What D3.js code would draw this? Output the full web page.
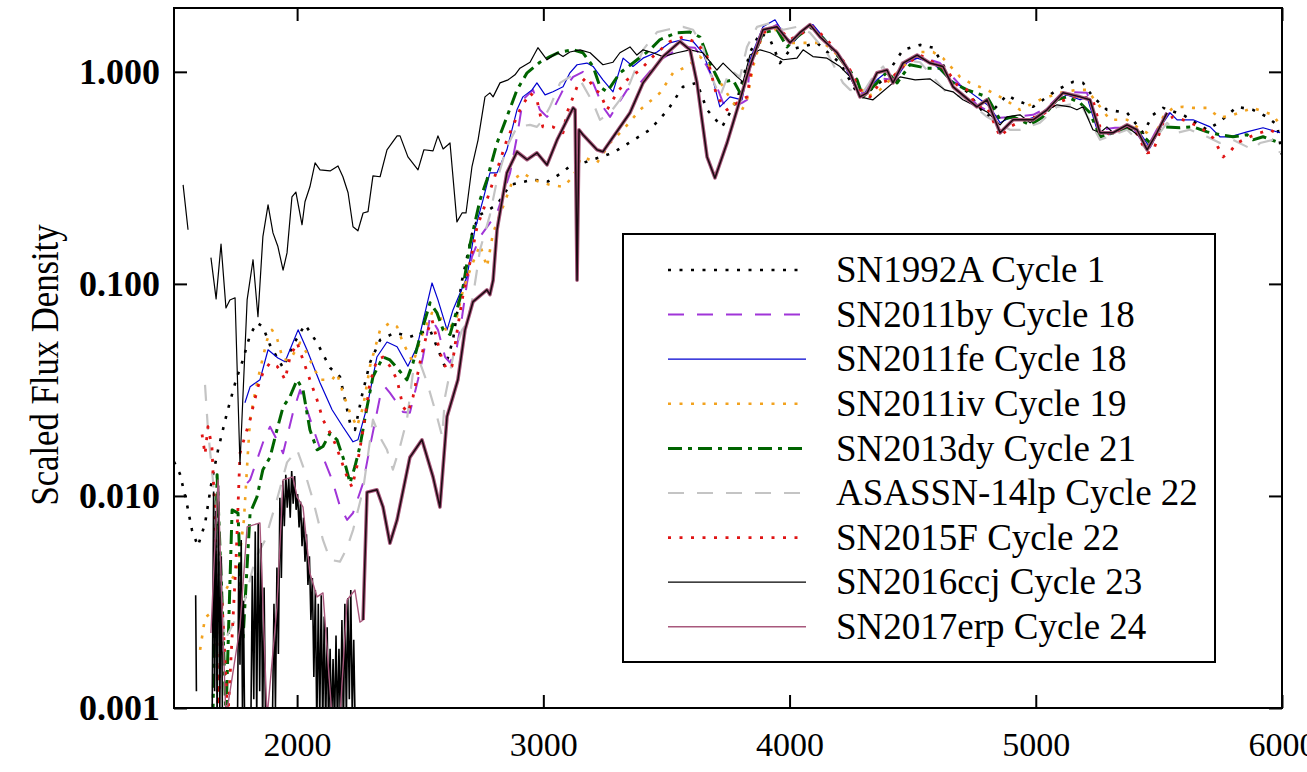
<!DOCTYPE html>
<html>
<head>
<meta charset="utf-8">
<script src="https://cdn.jsdelivr.net/npm/d3@7"></script>
<style>
  body { margin: 0; background: #fff; }
  text { font-family: "Liberation Serif", "DejaVu Serif", serif; fill: #000; }
</style>
</head>
<body>
<svg id="chart" width="1307" height="772"></svg>
<script>
// wavelength (A), scaled flux
var sn1992a = [[1500,0.0145],[1524,0.0127],[1549,0.0096],[1573,0.0069],[1597,0.0058],[1626,0.0074],[1654,0.0119],[1679,0.0165],[1715,0.0246],[1752,0.0353],[1780,0.0438],[1809,0.0575],[1837,0.0656],[1861,0.0628],[1890,0.0514],[1943,0.0402],[1983,0.0514],[2032,0.0643],[2081,0.0528],[2134,0.0402],[2174,0.0365],[2215,0.0221],[2235,0.0205],[2264,0.0300],[2296,0.0425],[2337,0.0544],[2398,0.0590],[2459,0.0563],[2540,0.0607],[2601,0.0405],[2633,0.0544],[2670,0.104],[2714,0.180],[2743,0.212],[2812,0.236],[2865,0.293],[2958,0.310],[3019,0.304],[3080,0.337],[3137,0.385],[3161,0.372],[3283,0.415],[3433,0.533],[3506,0.662],[3567,0.85],[3624,0.887],[3665,0.662],[3726,0.55],[3787,0.738],[3839,1.23],[3880,1.53],[3921,1.42],[3961,1.10],[4002,1.27],[4111,1.37],[4205,1.10],[4274,0.796],[4294,0.762],[4380,0.917],[4461,1.27],[4530,1.34],[4583,1.30],[4652,0.947],[4721,0.805],[4802,0.613],[4883,0.779],[4916,0.738],[4989,0.684],[5086,0.822],[5151,0.897],[5192,0.887],[5232,0.762],[5289,0.662],[5371,0.641],[5436,0.516],[5476,0.627],[5517,0.676],[5598,0.627],[5696,0.533],[5748,0.582],[5817,0.684],[5882,0.662],[5939,0.613],[5980,0.562],[6000,0.406]];

var sn2011by = [[1797,0.0115],[1809,0.0119],[1870,0.0191],[1890,0.0212],[1918,0.0184],[1943,0.0159],[1983,0.0247],[2012,0.0316],[2044,0.0247],[2081,0.0184],[2105,0.0153],[2142,0.0119],[2174,0.00894],[2203,0.00771],[2227,0.00831],[2268,0.0115],[2296,0.0171],[2337,0.0294],[2357,0.0327],[2377,0.0306],[2406,0.0275],[2430,0.0249],[2458,0.0247],[2491,0.0353],[2511,0.0452],[2540,0.0700],[2572,0.0607],[2601,0.0452],[2621,0.0425],[2649,0.0505],[2670,0.0700],[2690,0.101],[2710,0.134],[2743,0.167],[2812,0.216],[2865,0.334],[2893,0.494],[2917,0.738],[2958,0.822],[2986,0.662],[3015,0.613],[3039,0.662],[3080,0.822],[3121,0.947],[3161,1.0],[3202,0.887],[3242,0.684],[3271,0.613],[3340,0.822],[3393,0.887],[3474,1.14],[3543,1.27],[3567,1.31],[3616,1.30],[3665,1.06],[3705,0.85],[3730,0.714],[3766,0.684],[3807,0.714],[3827,0.738],[3839,1.10],[3892,1.54],[3949,1.67],[4002,1.39],[4063,1.58],[4095,1.63],[4136,1.44],[4205,1.18],[4286,0.779],[4355,0.937],[4420,0.917],[4477,1.11],[4530,1.18],[4611,1.10],[4692,0.868],[4761,0.699],[4855,0.607],[4908,0.613],[4989,0.627],[5046,0.676],[5111,0.805],[5208,0.796],[5261,0.533],[5322,0.545],[5395,0.545],[5452,0.438],[5517,0.607],[5545,0.641]];

var sn2011fe = [[1788,0.0275],[1809,0.0327],[1849,0.0353],[1882,0.0489],[1922,0.0447],[1951,0.0429],[2004,0.0607],[2040,0.0489],[2093,0.0342],[2142,0.0255],[2186,0.0212],[2227,0.0180],[2247,0.0184],[2284,0.0263],[2324,0.0452],[2365,0.0532],[2406,0.0505],[2450,0.0409],[2487,0.0505],[2548,0.101],[2572,0.0841],[2609,0.0607],[2633,0.0754],[2690,0.108],[2722,0.180],[2755,0.249],[2783,0.334],[2812,0.334],[2852,0.429],[2893,0.662],[2917,0.762],[2954,0.822],[2974,0.887],[3007,0.779],[3039,0.805],[3080,0.85],[3108,0.989],[3137,1.08],[3177,1.10],[3202,1.06],[3242,0.917],[3283,0.805],[3324,1.16],[3364,1.06],[3405,1.16],[3462,1.24],[3514,1.37],[3567,1.42],[3608,1.39],[3648,1.23],[3689,0.917],[3717,0.684],[3758,0.762],[3807,0.738],[3839,1.14],[3892,1.63],[3941,1.76],[3990,1.42],[4014,1.37],[4071,1.63],[4095,1.67],[4136,1.46],[4205,1.18],[4286,0.762],[4355,0.917],[4396,1.0],[4420,0.887],[4477,1.11],[4518,1.16],[4583,1.10],[4652,0.917],[4721,0.822],[4814,0.684],[4855,0.575],[4895,0.607],[4964,0.594],[5017,0.627],[5070,0.714],[5127,0.779],[5180,0.738],[5208,0.762],[5249,0.533],[5301,0.505],[5371,0.562],[5423,0.516],[5464,0.438],[5517,0.575],[5545,0.641],[5574,0.594],[5639,0.594],[5708,0.550],[5748,0.494],[5789,0.494],[5858,0.521],[5923,0.545],[5992,0.516]];

var sn2011iv = [[1606,0.00188],[1626,0.00267],[1646,0.00278],[1687,0.00323],[1727,0.00390],[1760,0.00455],[1784,0.00771],[1800,0.0159],[1809,0.0229],[1829,0.0306],[1849,0.0393],[1878,0.0544],[1898,0.0607],[1918,0.0556],[1943,0.0438],[1971,0.0438],[2012,0.0528],[2040,0.0472],[2064,0.0409],[2093,0.0353],[2142,0.0353],[2162,0.0380],[2186,0.0306],[2215,0.0247],[2243,0.0212],[2268,0.0263],[2296,0.0409],[2337,0.0607],[2377,0.0656],[2406,0.0628],[2430,0.0528],[2471,0.0425],[2511,0.0590],[2548,0.0730],[2580,0.0700],[2609,0.0590],[2649,0.0700],[2674,0.0937],[2702,0.116],[2743,0.153],[2771,0.120],[2796,0.174],[2836,0.231],[2877,0.310],[2917,0.334],[2958,0.310],[3027,0.293],[3080,0.287],[3121,0.320],[3149,0.385],[3161,0.397],[3218,0.372],[3271,0.462],[3324,0.533],[3393,0.662],[3474,0.796],[3527,0.989],[3584,1.06],[3636,1.18],[3677,1.06],[3730,0.85],[3770,0.714],[3807,0.662],[3827,0.738],[3852,1.06],[3892,1.53],[3949,1.58],[4002,1.37],[4042,1.37],[4095,1.37],[4136,1.37],[4176,1.27],[4217,1.10],[4274,0.887],[4315,0.762],[4367,0.822],[4408,0.917],[4461,1.06],[4530,1.24],[4583,1.24],[4623,1.16],[4692,0.947],[4733,0.887],[4802,0.822],[4855,0.762],[4895,0.714],[4936,0.662],[5017,0.738],[5098,0.796],[5167,0.822],[5208,0.822],[5261,0.684],[5301,0.594],[5371,0.594],[5411,0.550],[5452,0.516],[5476,0.478],[5517,0.613],[5557,0.676],[5598,0.684],[5639,0.676],[5696,0.676],[5748,0.607],[5801,0.627],[5882,0.676],[5963,0.627],[5992,0.562]];

var sn2013dy = [[1658,0.0009],[1675,0.0126],[1695,0.00323],[1711,0.0009],[1736,0.00859],[1760,0.0083],[1780,0.00209],[1809,0.0083],[1837,0.0099],[1861,0.0133],[1890,0.0152],[1918,0.0205],[1943,0.0263],[1971,0.0294],[2000,0.0353],[2024,0.0316],[2052,0.0205],[2081,0.0165],[2105,0.0171],[2134,0.0198],[2162,0.0184],[2194,0.0143],[2215,0.0115],[2235,0.0138],[2255,0.0171],[2284,0.0263],[2308,0.0365],[2349,0.0452],[2377,0.0438],[2406,0.0402],[2446,0.0353],[2471,0.0425],[2499,0.0562],[2540,0.0815],[2568,0.0730],[2593,0.0607],[2621,0.0577],[2649,0.0754],[2674,0.0967],[2702,0.153],[2743,0.249],[2771,0.310],[2812,0.462],[2852,0.613],[2893,0.822],[2934,0.989],[2986,1.11],[3027,1.18],[3068,1.24],[3121,1.27],[3161,1.23],[3202,1.06],[3230,0.85],[3259,0.805],[3311,0.989],[3364,1.10],[3433,1.27],[3474,1.42],[3543,1.53],[3596,1.54],[3636,1.46],[3677,1.10],[3717,0.887],[3770,0.917],[3799,0.796],[3839,1.06],[3892,1.53],[3949,1.58],[3990,1.31],[4030,1.46],[4083,1.63],[4136,1.44],[4193,1.20],[4274,0.917],[4298,0.762],[4355,0.887],[4396,1.0],[4437,0.887],[4489,1.08],[4558,1.04],[4611,1.04],[4664,0.887],[4721,0.822],[4802,0.762],[4855,0.594],[4908,0.613],[4977,0.562],[5029,0.613],[5086,0.738],[5127,0.762],[5180,0.714],[5220,0.641],[5261,0.494],[5314,0.516],[5371,0.545],[5423,0.516],[5464,0.462],[5517,0.550],[5586,0.545],[5639,0.550],[5696,0.521],[5748,0.505],[5801,0.494],[5858,0.505],[5882,0.478],[5923,0.494],[5992,0.462]];

var asassn14lp = [[1626,0.0334],[1638,0.0205],[1658,0.0119],[1679,0.0050],[1707,0.00209],[1748,0.0026],[1788,0.00323],[1829,0.0050],[1870,0.0062],[1918,0.0096],[1959,0.0144],[2000,0.0165],[2024,0.0138],[2064,0.0096],[2105,0.0062],[2134,0.0050],[2174,0.0049],[2203,0.0057],[2227,0.0069],[2268,0.0107],[2308,0.0229],[2337,0.0189],[2365,0.0165],[2389,0.0133],[2418,0.0171],[2446,0.0229],[2471,0.0385],[2499,0.0425],[2528,0.0342],[2568,0.0237],[2589,0.0191],[2601,0.0294],[2633,0.0452],[2670,0.0607],[2690,0.0656],[2714,0.0869],[2743,0.145],[2783,0.211],[2812,0.310],[2852,0.443],[2893,0.550],[2946,0.562],[2974,0.550],[2998,0.594],[3027,0.684],[3068,0.887],[3108,0.947],[3149,0.917],[3202,0.714],[3230,0.594],[3271,0.641],[3311,0.738],[3352,0.887],[3405,1.27],[3462,1.54],[3502,1.58],[3567,1.63],[3608,1.58],[3648,1.31],[3677,0.989],[3717,0.762],[3758,1.02],[3799,0.947],[3827,1.31],[3868,1.63],[3921,1.70],[3974,1.58],[4030,1.63],[4083,1.53],[4152,1.23],[4217,0.887],[4246,0.822],[4298,0.796],[4339,0.947],[4380,1.06],[4420,0.887],[4461,1.14],[4530,1.11],[4639,0.796],[4704,0.762],[4802,0.613],[4895,0.533],[4936,0.533],[5017,0.575],[5086,0.684],[5180,0.714],[5261,0.478],[5371,0.533],[5452,0.429],[5533,0.575],[5574,0.516],[5626,0.533],[5696,0.494],[5748,0.462],[5801,0.478],[5882,0.429],[5911,0.462],[5963,0.478],[5992,0.415]];

var sn2015f = [[1614,0.0195],[1626,0.0157],[1638,0.0212],[1654,0.0171],[1667,0.0077],[1679,0.0009],[1695,0.00323],[1719,0.0009],[1752,0.0050],[1768,0.0159],[1788,0.0191],[1809,0.0229],[1821,0.0263],[1841,0.0327],[1861,0.0380],[1890,0.0425],[1918,0.0409],[1930,0.0393],[1951,0.0353],[1971,0.0452],[2000,0.0528],[2024,0.0438],[2052,0.0353],[2081,0.0284],[2105,0.0229],[2134,0.0198],[2154,0.0177],[2174,0.0153],[2203,0.0123],[2223,0.0110],[2243,0.0138],[2268,0.0205],[2296,0.0342],[2324,0.0438],[2349,0.0452],[2377,0.0409],[2406,0.0353],[2430,0.0263],[2450,0.0247],[2471,0.0294],[2499,0.0425],[2528,0.0590],[2548,0.0677],[2568,0.0544],[2589,0.0438],[2609,0.0393],[2629,0.0409],[2649,0.0590],[2670,0.0841],[2702,0.126],[2731,0.186],[2771,0.249],[2812,0.345],[2852,0.478],[2905,0.662],[2946,0.796],[2974,0.738],[2998,0.550],[3039,0.550],[3080,0.516],[3096,0.641],[3137,0.85],[3177,0.947],[3210,0.822],[3230,0.796],[3259,0.662],[3299,0.796],[3340,0.917],[3393,1.02],[3445,1.18],[3514,1.39],[3567,1.46],[3624,1.37],[3665,1.18],[3705,0.762],[3746,0.662],[3787,0.714],[3827,0.762],[3852,1.14],[3892,1.53],[3949,1.63],[4002,1.42],[4055,1.53],[4095,1.63],[4152,1.42],[4205,1.18],[4246,1.02],[4286,0.822],[4327,0.762],[4367,0.887],[4408,0.917],[4461,1.06],[4530,1.20],[4583,1.11],[4639,1.02],[4680,0.868],[4721,0.822],[4761,0.684],[4802,0.684],[4855,0.494],[4895,0.550],[4964,0.607],[5017,0.613],[5086,0.714],[5151,0.762],[5192,0.762],[5232,0.738],[5261,0.550],[5301,0.505],[5342,0.533],[5395,0.550],[5452,0.415],[5476,0.420],[5517,0.575],[5557,0.613],[5598,0.594],[5667,0.550],[5720,0.488],[5761,0.397],[5789,0.420],[5817,0.462],[5870,0.494],[5911,0.516],[5951,0.533],[5992,0.505]];

var sn2016ccj = [[1537,0.293],[1557,0.180],null,[1650,0.133],[1671,0.085],[1691,0.154],[1711,0.077],[1727,0.084],[1748,0.086],[1768,0.0141],[1797,0.084],[1821,0.130],[1841,0.070],[1861,0.167],[1882,0.236],[1902,0.174],[1922,0.150],[1943,0.116],[1959,0.140],[1979,0.257],[1995,0.271],[2020,0.190],[2032,0.244],[2052,0.287],[2073,0.372],[2093,0.345],[2134,0.341],[2166,0.360],[2186,0.320],[2207,0.269],[2227,0.186],[2247,0.178],[2268,0.216],[2288,0.219],[2308,0.323],[2337,0.320],[2365,0.429],[2406,0.499],[2418,0.499],[2450,0.397],[2491,0.345],[2515,0.429],[2552,0.424],[2572,0.499],[2593,0.433],[2613,0.453],[2621,0.462],[2649,0.196],[2670,0.216],[2686,0.216],[2710,0.356],[2735,0.478],[2763,0.762],[2783,0.796],[2796,0.762],[2824,0.887],[2857,0.917],[2885,0.968],[2905,1.04],[2946,1.11],[2978,1.30],[3015,1.14],[3056,1.23],[3080,1.18],[3108,1.24],[3149,1.27],[3190,1.23],[3242,1.08],[3283,1.11],[3311,1.23],[3352,1.31],[3380,1.20],[3405,1.27],[3445,1.23],[3486,1.18],[3543,1.23],[3596,1.27],[3648,1.23],[3705,1.02],[3730,1.10],[3787,0.947],[3811,0.897],[3839,1.20],[3880,1.27],[3921,1.23],[3974,1.14],[4030,1.16],[4055,1.27],[4095,1.18],[4152,1.16],[4205,1.06],[4246,0.947],[4286,0.762],[4339,0.738],[4449,0.947],[4510,0.917],[4570,0.927],[4631,0.822],[4664,0.805],[4704,0.738],[4761,0.684],[4802,0.647],[4855,0.562],[4883,0.613],[4936,0.627],[4977,0.575],[5029,0.641],[5086,0.699],[5139,0.684],[5167,0.662],[5192,0.684],[5232,0.533],[5261,0.516],[5289,0.550],[5314,0.516],[5371,0.550],[5423,0.494],[5452,0.443],[5476,0.462]];

var sn2017erp = [[1650,0.00226],[1667,0.0062],[1679,0.0119],[1695,0.00298],[1711,0.0009],[1768,0.00241],[1797,0.00715],[1849,0.00746],[1878,0.0009],[1918,0.00298],[1943,0.0119],[1983,0.0123],[2000,0.00989],[2024,0.00886],[2052,0.00432],[2081,0.00334],[2105,0.00349],[2142,0.0009],[2174,0.0009],[2203,0.00323],[2235,0.0036],[2255,0.00254],[2268,0.0026],[2284,0.0104],[2324,0.0107],[2349,0.00886],[2377,0.00598],[2406,0.00771],[2458,0.0152],[2507,0.0184],[2552,0.0123],[2580,0.00886],[2609,0.0237],[2633,0.0294],[2653,0.0353],[2682,0.0607],[2714,0.0822],[2771,0.0937],[2783,0.089],[2796,0.104],[2812,0.180],[2852,0.334],[2893,0.420],[2934,0.385],[2974,0.415],[3015,0.364],[3056,0.478],[3121,0.676],[3129,0.662],[3137,0.104],[3145,0.533],[3161,0.505],[3218,0.429],[3242,0.420],[3352,0.641],[3405,0.887],[3486,1.18],[3555,1.39],[3596,1.27],[3624,0.887],[3665,0.397],[3697,0.316],[3746,0.462],[3799,0.738],[3839,1.06],[3892,1.58],[3949,1.63],[4002,1.37],[4042,1.53],[4083,1.67],[4124,1.46],[4193,1.23],[4246,0.989],[4286,0.762],[4315,0.796],[4355,0.989],[4396,1.02],[4420,0.887],[4461,1.10],[4518,1.20],[4570,1.10],[4623,1.06],[4664,0.85],[4761,0.684],[4802,0.738],[4855,0.516],[4908,0.594],[4989,0.594],[5046,0.662],[5111,0.796],[5180,0.762],[5220,0.738],[5261,0.516],[5314,0.516],[5371,0.562],[5411,0.533],[5452,0.429],[5492,0.516],[5533,0.641]];

// unsmoothed SN2017erp points in the noisy UV part (drawn black)
var sn2017erpRaw = [[1588,0.0034],[1591,0.0012],null,[1655,0.0009],[1661,0.0105],[1665,0.0012],[1670,0.0085],[1675,0.0009],[1681,0.0112],[1686,0.0010],[1692,0.0052],[1697,0.0008],null,[1758,0.0009],[1763,0.0048],[1768,0.0016],[1773,0.0062],[1778,0.0010],[1782,0.0032],[1787,0.0008],null,[1812,0.0008],[1818,0.0042],[1824,0.0011],[1830,0.0068],[1836,0.0009],[1842,0.0074],[1848,0.0012],[1854,0.0060],[1860,0.0008],[1866,0.0037],[1872,0.0008],null,[1900,0.0009],[1906,0.0031],[1912,0.0010],[1918,0.0046],[1924,0.0018],[1930,0.0098],[1936,0.0041],[1942,0.0118],[1948,0.0072],[1954,0.0126],[1960,0.0088],[1966,0.0121],[1972,0.0079],[1978,0.0131],[1984,0.0092],[1990,0.0124],[1996,0.0086],[2002,0.0102],[2008,0.0071],[2014,0.0094],[2020,0.0058],[2026,0.0079],[2032,0.0049],[2038,0.0066],[2044,0.0038],[2050,0.0052],[2056,0.0026],[2062,0.0041],[2068,0.0014],[2074,0.0036],[2080,0.0008],[2086,0.0031],[2092,0.0009],[2098,0.0034],[2104,0.0008],[2110,0.0027],[2116,0.0008],[2122,0.0024],[2128,0.0008],[2134,0.0019],[2140,0.0008],[2146,0.0017],[2152,0.0008],[2158,0.0022],[2164,0.0008],[2170,0.0019],[2176,0.0008],[2182,0.0026],[2188,0.0008],[2194,0.0031],[2200,0.0009],[2206,0.0033],[2212,0.0011],[2218,0.0036],[2224,0.0009],[2230,0.0021],[2236,0.0008]];

var labels = ["SN1992A Cycle 1", "SN2011by Cycle 18", "SN2011fe Cycle 18", "SN2011iv Cycle 19",
  "SN2013dy Cycle 21", "ASASSN-14lp Cycle 22", "SN2015F Cycle 22", "SN2016ccj Cycle 23", "SN2017erp Cycle 24"];
var xTicks = [2000, 3000, 4000, 5000, 6000];
var yTicks = [0.001, 0.01, 0.1, 1];

var series = [sn1992a, sn2011by, sn2011fe, sn2011iv, sn2013dy, asassn14lp, sn2015f, sn2016ccj, sn2017erp];
var styles = [
  {color: "#000000", width: 2.6, dash: "3,8.5"},
  {color: "#a035d8", width: 2,   dash: "16,13"},
  {color: "#0000d0", width: 1.2, dash: null},
  {color: "#f2a21e", width: 2.6, dash: "3,8.5"},
  {color: "#006400", width: 3,   dash: "14,6,4,6"},
  {color: "#c4c4c4", width: 2.2, dash: "16,13"},
  {color: "#e01414", width: 2.8, dash: "3,8.5"},
  {color: "#000000", width: 1.2, dash: null},
  {color: "#a8587c", width: 1.4, dash: null}
];

var plotL = 174, plotR = 1282, plotT = 8, plotB = 708;

var x = d3.scaleLinear().domain([1500, 6000]).range([plotL, plotR]);
var y = d3.scaleLog().domain([0.001, 2]).range([plotB, plotT]);

var svg = d3.select("#chart");

svg.append("defs").append("clipPath").attr("id", "plotclip")
  .append("rect").attr("x", plotL).attr("y", plotT)
  .attr("width", plotR - plotL).attr("height", plotB - plotT);

var line = d3.line()
  .defined(function (d) { return d != null; })
  .x(function (d) { return x(d[0]); })
  .y(function (d) { return y(d[1]); });

var plot = svg.append("g").attr("clip-path", "url(#plotclip)");

function optical(d) { return d[0] >= 2260; }

series.forEach(function (s, i) {
  var st = styles[i];
  if (i == 8) {
    // SN2017erp: raw UV noise in black, thin pink in the UV,
    // pink rim with a dark core above 2260 A
    plot.append("path").attr("d", line(sn2017erpRaw)).attr("fill", "none")
      .attr("stroke", "#000").attr("stroke-width", 1.6);
    plot.append("path").attr("d", line(s.filter(function (d) { return d[0] <= 2284; })))
      .attr("fill", "none").attr("stroke", st.color).attr("stroke-width", st.width)
      .attr("stroke-linejoin", "round");
    plot.append("path").attr("d", line(s.filter(optical))).attr("fill", "none")
      .attr("stroke", st.color).attr("stroke-width", 3.6).attr("stroke-linejoin", "round");
    plot.append("path").attr("d", line(s.filter(optical)))
      .attr("fill", "none").attr("stroke", "#1a0a10").attr("stroke-width", 1.5)
      .attr("stroke-linejoin", "round");
    return;
  }
  plot.append("path").attr("d", line(s)).attr("fill", "none")
    .attr("stroke", st.color).attr("stroke-width", st.width)
    .attr("stroke-dasharray", st.dash).attr("stroke-linejoin", "round");
});

// axes, ticks inward
var fmtY = d3.format(".3f");
var gB = svg.append("g").attr("transform", "translate(0," + plotB + ")")
  .call(d3.axisBottom(x).tickValues(xTicks).tickSize(-13).tickPadding(24).tickFormat(d3.format("d")));
var gT = svg.append("g").attr("transform", "translate(0," + plotT + ")")
  .call(d3.axisTop(x).tickValues(xTicks).tickSize(-13).tickFormat(""));
var gL = svg.append("g").attr("transform", "translate(" + plotL + ",0)")
  .call(d3.axisLeft(y).tickValues(yTicks).tickSize(-13).tickPadding(14).tickFormat(fmtY));
var gR = svg.append("g").attr("transform", "translate(" + plotR + ",0)")
  .call(d3.axisRight(y).tickValues(yTicks).tickSize(-13).tickFormat(""));

[gB, gT, gL, gR].forEach(function (g) {
  g.select(".domain").remove();
  g.selectAll(".tick line").attr("stroke", "#000").attr("stroke-width", 2);
});
gB.selectAll("text").attr("font-size", 34).attr("font-family", "Liberation Serif");
gL.selectAll("text").attr("font-size", 36).attr("font-weight", "bold").attr("font-family", "Liberation Serif");

svg.append("rect").attr("x", plotL).attr("y", plotT)
  .attr("width", plotR - plotL).attr("height", plotB - plotT)
  .attr("fill", "none").attr("stroke", "#000").attr("stroke-width", 2);

svg.append("text")
  .attr("transform", "translate(58,365) rotate(-90) scale(1.02,1.18)")
  .attr("text-anchor", "middle")
  .attr("font-size", 34)
  .text("Scaled Flux Density");

// legend
var legend = svg.append("g");
legend.append("rect").attr("x", 623).attr("y", 234).attr("width", 592).attr("height", 428)
  .attr("fill", "#fff").attr("stroke", "#000").attr("stroke-width", 2);

labels.forEach(function (lab, i) {
  var ly = 270 + i * 44.6;
  var st = styles[i];
  legend.append("line").attr("x1", 668).attr("x2", 806).attr("y1", ly).attr("y2", ly)
    .attr("stroke", st.color).attr("stroke-width", i == 8 ? 1.4 : st.width)
    .attr("stroke-dasharray", st.dash);
  legend.append("text").attr("x", 836).attr("y", ly).attr("dy", "0.33em")
    .attr("font-size", 37).text(lab);
});
</script>
</body>
</html>
